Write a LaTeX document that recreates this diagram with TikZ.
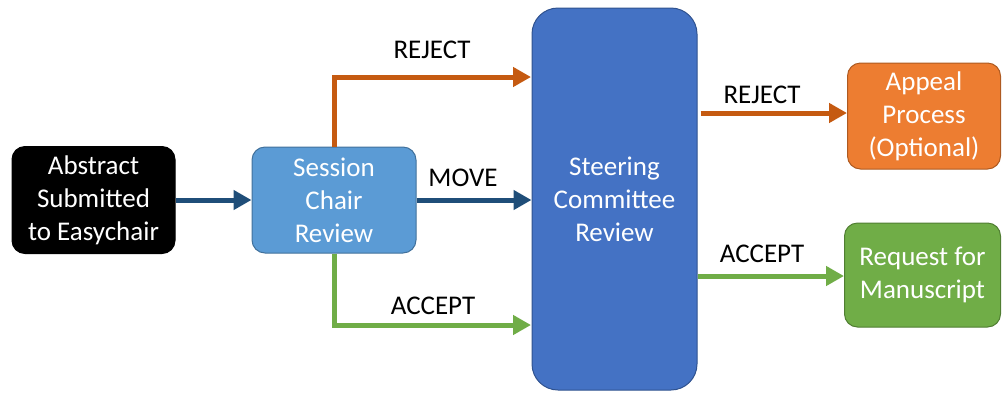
\documentclass[tikz,border=0pt]{standalone}
\usepackage{fontspec}
\setmainfont{Carlito}
\usetikzlibrary{arrows.meta}
\definecolor{darkarrow}{HTML}{1F4E79}
\definecolor{orangearrow}{HTML}{C55A11}
\definecolor{greenarrow}{HTML}{70AD47}
\definecolor{sessfill}{HTML}{5B9BD5}
\definecolor{sessdraw}{HTML}{41719C}
\definecolor{steerfill}{HTML}{4472C4}
\definecolor{steerdraw}{HTML}{2F528F}
\definecolor{appealfill}{HTML}{ED7D31}
\definecolor{appealdraw}{HTML}{AE5A21}
\definecolor{reqfill}{HTML}{70AD47}
\definecolor{reqdraw}{HTML}{507E32}
\tikzset{
  box/.style={rectangle, rounded corners=13pt, line width=1pt, text=white,
    align=center, inner sep=0pt, font=\fontsize{27pt}{33pt}\selectfont},
  flow/.style={line width=5pt, -{Triangle[length=18pt,width=19pt]}},
  lbl/.style={font=\fontsize{27pt}{33pt}\selectfont, text=black, inner sep=0pt}
}
\begin{document}
\begin{tikzpicture}[x=1pt,y=-1pt]
\useasboundingbox (0,0) rectangle (1002,392);
\node[box, fill=black, draw=black, minimum width=163pt, minimum height=107pt] (abs) at (93.5,200) {Abstract\\Submitted\\to Easychair};
\node[box, fill=sessfill, draw=sessdraw, minimum width=164pt, minimum height=106pt] (sess) at (334,200) {Session\\Chair\\Review};
\node[box, rounded corners=26pt, fill=steerfill, draw=steerdraw, minimum width=165pt, minimum height=382pt] (steer) at (614.5,199) {Steering\\Committee\\Review};
\node[box, fill=appealfill, draw=appealdraw, minimum width=153pt, minimum height=106pt] (app) at (924,116) {Appeal\\Process\\(Optional)};
\node[box, fill=reqfill, draw=reqdraw, minimum width=156pt, minimum height=104pt] (req) at (922.5,275) {Request for\\Manuscript};

\coordinate (rj) at (531,77);
\coordinate (ac) at (531,325);

\draw[flow, darkarrow] (abs.east) -- (sess.west);
\draw[flow, darkarrow] (sess.east) -- (steer.west |- sess.east);
\draw[flow, orangearrow] (sess.north) |- (rj);
\draw[flow, greenarrow] (sess.south) |- (ac);
\draw[flow, orangearrow, shorten <=3pt] (steer.east |- 0,113) -- (app.west |- 0,113);
\draw[flow, greenarrow] (steer.east |- 0,276) -- (req.west |- 0,276);

\node[lbl] (l1) at (432,50) {REJECT};
\node[lbl] (l2) at (463,178) {MOVE};
\node[lbl] (l3) at (433,306) {ACCEPT};
\node[lbl] (l4) at (762,95) {REJECT};
\node[lbl] (l5) at (762,254) {ACCEPT};
\end{tikzpicture}
\end{document}
